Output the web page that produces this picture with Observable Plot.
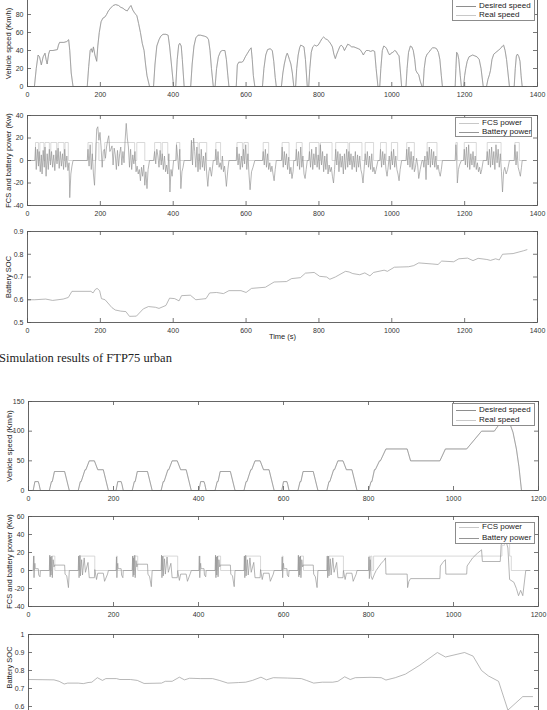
<!DOCTYPE html>
<html>
<head>
<meta charset="utf-8">
<script src="https://cdn.jsdelivr.net/npm/d3@7"></script>
<script src="https://cdn.jsdelivr.net/npm/@observablehq/plot@0.6"></script>
<style>
html,body{margin:0;padding:0;background:#fff;}
#page{position:relative;width:547px;height:710px;overflow:hidden;background:#fff;font-family:"Liberation Sans",Arial,sans-serif;}
#page svg{position:absolute;left:0;overflow:visible;}
.legend{position:absolute;border:1px solid #8c8c8c;background:#fff;box-sizing:border-box;}
.lg-line{position:absolute;height:0;border-top:1px solid #888;}
.lg-text{position:absolute;font-size:8px;line-height:8px;color:#222;white-space:nowrap;}
.caption{position:absolute;left:-1px;top:351px;font-family:"Liberation Serif","Times New Roman",serif;font-size:12.5px;color:#222;white-space:nowrap;}
</style>
</head>
<body>
<div id="page"></div>
<script>
// ---------- FTP75 urban ----------
const ftpTicksX = [0, 200, 400, 600, 800, 1000, 1200, 1400];
const speedTicks1 = [0, 20, 40, 60, 80];
const powerTicks1 = [-40, -20, 0, 20, 40];
const socTicks1 = [0.5, 0.6, 0.7, 0.8, 0.9];

const desiredSpeed1 = [
[0,0],[19,0],[24,20],[29,35],[33,33],[38,24],[43,33],[48,37],[51,30],[54,25],[58,36],[61,40],[70,40],[82,41],[85,46],[88,49],[100,49],[108,50],[113,52],[116,40],[120,15],[125,0],
[164,0],[168,22],[172,40],[175,42],[178,38],[181,44],[185,35],[190,28],[193,45],[197,60],[202,72],[207,76],[212,77],[217,80],[222,84],[228,87],[235,90],[242,91],[250,90],[256,88],[262,87],[268,85],[274,84],[280,88],[284,90],[289,85],[295,81],[300,79],[305,70],[310,60],[315,48],[320,40],[324,25],[328,12],[335,0],
[346,0],[350,25],[355,45],[361,52],[366,56],[372,58],[380,58],[386,57],[390,45],[395,25],[401,0],
[407,0],[411,30],[415,46],[418,48],[422,45],[425,30],[430,0],
[448,0],[452,25],[457,45],[462,54],[468,57],[475,57],[485,56],[492,55],[497,52],[501,40],[505,20],[510,0],
[515,0],[519,20],[524,33],[530,39],[535,40],[542,40],[546,30],[550,12],[553,0],
[573,0],[576,24],[580,27],[588,27],[592,28],[598,33],[604,37],[610,41],[614,43],[617,30],[620,12],[624,0],
[645,0],[649,20],[654,35],[659,41],[666,42],[672,40],[676,28],[680,10],[683,0],
[697,0],[701,15],[705,25],[710,34],[713,37],[716,34],[719,30],[723,25],[727,15],[731,0],
[736,0],[739,20],[743,35],[747,43],[750,46],[755,45],[759,44],[763,30],[768,0],
[772,0],[775,20],[779,38],[783,44],[788,46],[793,45],[798,46],[804,50],[808,53],[813,55],[818,53],[823,52],[828,50],[833,47],[837,44],[841,36],[845,31],[849,36],[853,40],[857,44],[861,46],[866,44],[870,40],[874,43],[879,47],[884,46],[890,44],[896,44],[902,43],[908,42],[913,41],[918,38],[922,35],[926,38],[930,40],[936,40],[942,39],[948,40],[953,39],[957,20],[962,0],
[967,0],[970,20],[974,40],[978,45],[982,44],[986,42],[990,38],[994,35],[998,37],[1003,38],[1008,40],[1012,39],[1016,36],[1020,34],[1024,15],[1027,0],
[1039,0],[1042,20],[1046,38],[1051,45],[1055,44],[1059,40],[1063,30],[1066,18],[1070,15],[1074,13],[1078,6],[1083,0],
[1086,0],[1089,20],[1093,32],[1097,36],[1102,38],[1107,41],[1112,43],[1118,43],[1123,42],[1128,38],[1132,30],[1136,12],[1139,0],
[1174,0],[1176,20],[1178,38],[1181,36],[1184,30],[1188,12],[1191,0],
[1197,0],[1200,12],[1203,20],[1207,28],[1212,33],[1217,34],[1222,35],[1228,34],[1234,33],[1240,30],[1245,20],[1251,0],
[1260,0],[1264,8],[1268,13],[1271,18],[1275,30],[1280,36],[1286,38],[1292,40],[1298,42],[1304,45],[1307,46],[1311,40],[1315,30],[1319,15],[1323,0],
[1336,0],[1339,20],[1342,34],[1345,36],[1349,33],[1352,28],[1355,12],[1358,0],[1369,0]
];
const realSpeed1 = desiredSpeed1;

const fcsPower1 = [
[0,0],[22,16],[30,0],[34,16],[45,0],[48,16],[60,0],[64,16],[80,0],[84,16],[100,0],[103,16],[112,0],
[166,16],[178,0],[188,16],[196,0],[212,16],[294,0],[300,16],[322,0],
[349,16],[366,0],[370,16],[385,0],[409,16],[418,0],[450,16],[468,0],[472,16],[492,0],[517,16],[530,0],
[575,16],[590,0],[594,16],[606,0],[647,16],[662,0],[699,16],[718,0],[738,16],[754,0],
[774,16],[800,0],[804,16],[836,0],[846,16],[880,0],[884,16],[918,0],[927,16],[950,0],
[969,16],[985,0],[999,16],[1016,0],[1041,16],[1062,0],[1097,16],[1124,0],[1176,16],[1180,0],
[1199,16],[1232,0],[1262,16],[1300,0],[1338,16],[1350,0],[1369,0]
];

const batteryPower1 = [
[0,0],[20,0],[22,12],[24,-8],[27,10],[30,-5],[32,8],[35,-10],[38,5],[40,-12],[43,9],[46,-6],[48,12],[51,-14],[54,6],[57,-8],[60,10],[63,-4],[66,8],[69,-6],[72,5],[75,-9],[78,9],[81,-3],[84,11],[87,-7],[90,8],[93,-5],[96,6],[99,-8],[102,10],[105,-6],[108,4],[111,-9],[114,-2],[116,-33],[119,-12],[122,-5],[125,0],
[164,0],[166,10],[169,-5],[172,14],[175,-8],[178,6],[181,-12],[184,-22],[187,4],[190,28],[193,30],[196,18],[199,25],[202,12],[205,-6],[208,8],[211,10],[214,2],[217,12],[220,18],[223,22],[226,8],[229,10],[232,13],[235,-4],[238,11],[241,5],[244,-8],[247,9],[250,-5],[253,6],[256,12],[259,-4],[262,8],[265,-2],[268,18],[271,33],[274,20],[277,12],[280,-6],[283,10],[286,-8],[289,5],[292,-3],[295,8],[298,-10],[301,-5],[304,-12],[307,-8],[310,-18],[313,-6],[316,-14],[319,-4],[322,-22],[325,-10],[328,-25],[331,-8],[335,0],
[346,0],[349,8],[352,-3],[355,10],[358,4],[361,-6],[364,9],[367,-4],[370,6],[373,-8],[376,4],[379,-10],[382,-4],[385,-12],[388,6],[391,-28],[394,-8],[397,-14],[401,0],
[407,0],[409,14],[412,4],[415,-8],[418,10],[421,-25],[424,-10],[427,-6],[430,0],
[448,0],[450,18],[453,-4],[456,20],[459,8],[462,-6],[465,12],[468,-10],[471,6],[474,-8],[477,10],[480,-6],[483,4],[486,-9],[489,7],[492,-12],[495,-23],[498,-10],[501,-6],[505,-14],[510,0],
[515,0],[517,10],[520,-4],[523,8],[526,-6],[529,-2],[532,-8],[535,4],[538,-10],[541,-5],[546,-23],[550,-8],[553,0],
[573,0],[575,12],[578,-4],[581,6],[584,-8],[587,4],[590,-6],[593,10],[596,-3],[599,14],[602,-8],[605,6],[608,-12],[611,-26],[615,-10],[619,-6],[624,0],
[645,0],[647,8],[650,-4],[653,10],[656,-6],[659,6],[662,-8],[665,-2],[668,-10],[671,-5],[674,-12],[677,-18],[680,-8],[683,0],
[697,0],[699,12],[702,-6],[705,8],[708,-4],[711,6],[714,-8],[717,3],[720,-12],[723,-6],[726,-16],[729,-10],[731,0],
[736,0],[738,10],[741,-5],[744,8],[747,-8],[750,12],[753,-6],[756,4],[759,-12],[762,-16],[765,-8],[768,0],
[772,0],[774,8],[777,-6],[780,10],[783,-8],[786,6],[789,-4],[792,12],[795,-6],[798,5],[801,-8],[804,14],[807,-4],[810,8],[813,-10],[816,4],[819,-8],[822,6],[825,-12],[828,-4],[831,-10],[834,-6],[837,-14],[840,-20],[843,-8],[846,10],[849,-4],[852,8],[855,-10],[858,6],[861,-6],[864,4],[867,-12],[870,6],[873,-8],[876,10],[879,-6],[882,8],[885,-4],[888,6],[891,-8],[894,4],[897,-6],[900,8],[903,-10],[906,5],[909,-6],[912,4],[915,-8],[918,-12],[921,-20],[924,-8],[927,6],[930,-4],[933,8],[936,-6],[939,4],[942,-8],[945,6],[948,-10],[951,-6],[954,-12],[957,-8],[962,0],
[967,0],[969,10],[972,-6],[975,8],[978,-4],[981,6],[984,-8],[987,-14],[990,-6],[993,4],[996,-8],[999,8],[1002,-4],[1005,10],[1008,-6],[1011,4],[1014,-8],[1017,-12],[1020,-18],[1023,-8],[1027,0],
[1039,0],[1041,10],[1044,-4],[1047,12],[1050,-6],[1053,8],[1056,-8],[1059,4],[1062,-10],[1065,-6],[1068,2],[1071,-4],[1074,-16],[1078,-8],[1083,0],
[1086,0],[1088,-6],[1091,4],[1094,-17],[1097,8],[1100,-4],[1103,12],[1106,-6],[1109,10],[1112,-4],[1115,8],[1118,-6],[1121,4],[1124,-8],[1127,-4],[1130,-10],[1133,-14],[1136,-8],[1139,0],
[1174,0],[1176,14],[1178,4],[1180,-20],[1183,-8],[1186,-4],[1191,0],
[1197,0],[1199,10],[1202,-4],[1205,12],[1208,-6],[1211,14],[1214,-8],[1217,6],[1220,-4],[1223,8],[1226,-6],[1229,4],[1232,-8],[1235,-2],[1238,-10],[1241,-6],[1244,-12],[1247,-8],[1251,0],
[1260,0],[1262,8],[1265,-4],[1268,10],[1271,-6],[1274,12],[1277,-4],[1280,8],[1283,-8],[1286,14],[1289,-2],[1292,10],[1295,-6],[1298,6],[1301,-10],[1304,-28],[1307,-10],[1310,-6],[1314,-12],[1318,-8],[1323,0],
[1336,0],[1338,14],[1341,-4],[1344,8],[1347,-6],[1350,-10],[1353,-14],[1356,-6],[1358,0],[1369,0]
];

const soc1 = [
[0,0.6],[20,0.6],[50,0.603],[69,0.597],[98,0.603],[112,0.61],[122,0.637],[174,0.637],[180,0.63],[186,0.645],[191,0.65],[198,0.64],[203,0.605],[213,0.6],[232,0.565],[241,0.555],[256,0.55],[270,0.548],[280,0.527],[299,0.528],[318,0.56],[332,0.57],[351,0.567],[361,0.562],[380,0.575],[390,0.607],[404,0.605],[416,0.595],[423,0.618],[447,0.62],[462,0.6],[490,0.605],[500,0.63],[519,0.632],[538,0.627],[553,0.64],[586,0.64],[600,0.632],[615,0.65],[653,0.655],[677,0.678],[711,0.68],[725,0.693],[749,0.697],[763,0.717],[787,0.72],[802,0.703],[821,0.7],[830,0.69],[845,0.7],[873,0.725],[883,0.722],[893,0.715],[912,0.71],[926,0.718],[940,0.705],[950,0.72],[979,0.73],[988,0.725],[1007,0.743],[1046,0.745],[1060,0.75],[1074,0.762],[1113,0.757],[1127,0.755],[1137,0.77],[1170,0.767],[1184,0.78],[1208,0.783],[1223,0.772],[1237,0.782],[1261,0.777],[1271,0.773],[1285,0.78],[1295,0.775],[1304,0.8],[1333,0.803],[1361,0.815],[1371,0.82]
];

// ---------- second cycle ----------
const nedcTicksX = [0, 200, 400, 600, 800, 1000, 1200];
const speedTicks2 = [0, 50, 100, 150];
const powerTicks2 = [-40, -20, 0, 20, 40, 60];
const socTicks2 = [0.5, 0.6, 0.7, 0.8, 0.9, 1];
const socLabels2 = [0.6, 0.7, 0.8, 0.9, 1];

const desiredSpeed2 = [
[0,0],[11,0],[15,15],[23,15],[25,10],[28,0],[49,0],[54,15],[56,15],[61,32],[85,32],[96,0],[117,0],[122,15],[124,15],[133,35],[135,35],[143,50],[155,50],[163,35],[176,35],[188,0],
[206,0],[210,15],[218,15],[220,10],[223,0],[244,0],[249,15],[251,15],[256,32],[280,32],[291,0],[312,0],[317,15],[319,15],[328,35],[330,35],[338,50],[350,50],[358,35],[371,35],[383,0],
[401,0],[405,15],[413,15],[415,10],[418,0],[439,0],[444,15],[446,15],[451,32],[475,32],[486,0],[507,0],[512,15],[514,15],[523,35],[525,35],[533,50],[545,50],[553,35],[566,35],[578,0],
[596,0],[600,15],[608,15],[610,10],[613,0],[634,0],[639,15],[641,15],[646,32],[670,32],[681,0],[702,0],[707,15],[709,15],[718,35],[720,35],[728,50],[740,50],[748,35],[761,35],[773,0],
[800,0],[806,15],[808,15],[814,35],[816,35],[826,50],[828,50],[841,70],[891,70],[899,50],[968,50],[981,70],[1031,70],[1066,100],[1096,100],[1116,120],[1126,120],[1132,114],[1140,98],[1148,70],[1154,40],[1160,0],[1180,0]
];
const realSpeed2 = desiredSpeed2;

const fcsPower2 = [
[0,0],[12,16],[14,0],[50,16],[52,0],[55,16],[62,0],[118,16],[120,0],[122,16],[156,0],
[207,16],[209,0],[245,16],[247,0],[250,16],[257,0],[313,16],[315,0],[317,16],[351,0],
[402,16],[404,0],[440,16],[442,0],[445,16],[452,0],[508,16],[510,0],[512,16],[546,0],
[597,16],[599,0],[635,16],[637,0],[640,16],[647,0],[703,16],[705,0],[707,16],[741,0],
[801,16],[803,0],[805,16],[808,0],[812,16],[1110,16],[1114,28],[1120,35],[1128,35],[1132,16],[1136,0],[1180,0]
];

const batteryPower2 = [
[0,0],[11,0],[12,16],[13,-8],[14,3],[15,8],[16,2],[23,2],[24,-5],[27,-7],[28,0],[49,0],[50,17],[51,-7],[52,15],[53,-5],[55,16],[56,-8],[58,12],[60,4],[61,6],[85,6],[86,-4],[90,-6],[94,-19],[96,0],[117,0],[118,16],[119,-8],[121,17],[122,-6],[125,12],[127,-5],[131,14],[134,-2],[140,9],[143,-8],[155,-8],[156,1],[160,-10],[163,-3],[176,-3],[179,-12],[186,-4],[188,0],
[206,0],[207,15],[208,-8],[209,4],[210,8],[211,2],[218,2],[219,-5],[222,-8],[223,0],[244,0],[245,16],[246,-7],[247,14],[248,-5],[250,17],[251,-8],[253,11],[255,4],[256,7],[280,7],[281,-4],[285,-7],[289,-18],[291,0],[312,0],[313,17],[314,-8],[316,16],[317,-6],[320,13],[322,-4],[326,15],[329,-2],[335,8],[338,-8],[350,-8],[351,0],[355,-11],[358,-4],[371,-4],[374,-12],[381,-3],[383,0],
[401,0],[402,16],[403,-8],[404,3],[405,8],[406,2],[413,2],[414,-5],[417,-7],[418,0],[439,0],[440,17],[441,-8],[442,15],[443,-5],[445,16],[446,-7],[448,12],[450,4],[451,6],[475,6],[476,-4],[480,-6],[484,-18],[486,0],[507,0],[508,16],[509,-8],[511,17],[512,-6],[515,12],[517,-5],[521,14],[524,-2],[530,9],[533,-8],[545,-8],[546,1],[550,-10],[553,-3],[566,-3],[569,-12],[576,-4],[578,0],
[596,0],[597,15],[598,-8],[599,4],[600,8],[601,2],[608,2],[609,-5],[612,-7],[613,0],[634,0],[635,17],[636,-7],[637,15],[638,-5],[640,16],[641,-8],[643,12],[645,4],[646,6],[670,6],[671,-4],[675,-7],[679,-19],[681,0],[702,0],[703,16],[704,-8],[706,16],[707,-6],[710,13],[712,-5],[716,14],[719,-2],[725,9],[728,-8],[740,-8],[741,0],[745,-10],[748,-3],[761,-3],[764,-12],[771,-4],[773,0],
[800,0],[801,15],[802,-9],[804,12],[806,-6],[809,-10],[814,-4],[818,0],[824,4],[830,8],[836,11],[840,14],[841,-4],[891,-4],[892,-19],[895,-12],[899,-9],[968,-9],[969,5],[975,9],[981,12],[982,-4],[1031,-4],[1032,5],[1045,14],[1056,19],[1066,23],[1068,10],[1110,10],[1112,28],[1118,38],[1124,32],[1128,25],[1132,-10],[1142,-13],[1148,-20],[1153,-28],[1158,-22],[1163,-28],[1170,0],[1180,0]
];

const soc2 = [
[0,0.75],[60,0.748],[72,0.74],[84,0.725],[92,0.73],[117,0.73],[129,0.727],[140,0.733],[149,0.735],[162,0.76],[174,0.745],[182,0.755],[207,0.755],[215,0.75],[240,0.75],[256,0.745],[272,0.728],[313,0.73],[322,0.74],[338,0.74],[355,0.763],[367,0.748],[379,0.757],[404,0.755],[433,0.755],[449,0.745],[469,0.73],[494,0.733],[511,0.735],[527,0.745],[547,0.763],[560,0.748],[576,0.76],[609,0.758],[642,0.755],[654,0.745],[671,0.73],[691,0.735],[716,0.735],[728,0.74],[744,0.765],[757,0.75],[769,0.76],[806,0.762],[830,0.76],[841,0.747],[863,0.76],[887,0.78],[921,0.83],[962,0.9],[981,0.875],[1026,0.9],[1046,0.88],[1066,0.8],[1082,0.77],[1106,0.74],[1128,0.58],[1163,0.655],[1186,0.655]
];

// ---------- rendering ----------
const page = document.getElementById("page");
const FONT = '"Liberation Sans", Arial, sans-serif';
const fmt = d => String(d);

function panel(o) {
  const mt = 8, mb = 26;
  const fh = o.fb - o.ft;
  const fw = 547 - o.ml - o.mr;
  const axisColor = "#555";
  const marks = [
    ...o.series.map(s => Plot.line(s.data, {x: d => d[0], y: d => d[1], stroke: s.color, strokeWidth: 0.7, curve: s.curve || "linear"})),
    Plot.frame({stroke: axisColor, strokeWidth: 0.9}),
    Plot.ruleX(o.xt, {x: d => d, insetTop: fh - 4, stroke: axisColor, strokeWidth: 0.8}),
    Plot.ruleX(o.xt, {x: d => d, insetBottom: fh - 4, stroke: axisColor, strokeWidth: 0.8}),
    Plot.ruleY(o.yt, {y: d => d, insetRight: fw - 4, stroke: axisColor, strokeWidth: 0.8}),
    Plot.ruleY(o.yt, {y: d => d, insetLeft: fw - 4, stroke: axisColor, strokeWidth: 0.8}),
    Plot.axisY({ticks: o.ylabels || o.yt, tickSize: 0, tickPadding: 4, label: null, tickFormat: fmt, fontSize: 7, fill: "#333"}),
    Plot.text([o.ylabel], {text: d => d, frameAnchor: "left", textAnchor: "middle", dx: -19, dy: o.labelDy || 0, rotate: -90, fontSize: 7.5, fill: "#222"})
  ];
  if (!o.noXLabels) marks.push(Plot.axisX({ticks: o.xt, tickSize: 0, tickPadding: 6, label: null, tickFormat: fmt, fontSize: 7, fill: "#333"}));
  else marks.push(Plot.axisX({ticks: [], label: null}));
  if (o.xlabel) marks.push(Plot.text([o.xlabel], {text: d => d, frameAnchor: "bottom", dy: 16, fontSize: 7.5, fill: "#222"}));
  const svg = Plot.plot({
    width: 547, height: fh + mt + mb,
    marginTop: mt, marginBottom: mb, marginLeft: o.ml, marginRight: o.mr,
    style: {fontFamily: FONT, fontSize: "7px", color: "#333", background: "transparent"},
    x: {domain: o.xd}, y: {domain: o.yd},
    marks
  });
  svg.style.top = (o.ft - mt) + "px";
  page.appendChild(svg);
}

function legend(left, top, w, h, items) {
  const box = document.createElement("div");
  box.className = "legend";
  Object.assign(box.style, {left: left + "px", top: top + "px", width: w + "px", height: h + "px"});
  page.appendChild(box);
  items.forEach(([label, color, y]) => {
    const ln = document.createElement("div");
    ln.className = "lg-line";
    Object.assign(ln.style, {left: (left + 4) + "px", top: y + "px", width: "20px", borderTopColor: color});
    page.appendChild(ln);
    const tx = document.createElement("div");
    tx.className = "lg-text";
    tx.textContent = label;
    Object.assign(tx.style, {left: (left + 27) + "px", top: (y - 4) + "px"});
    page.appendChild(tx);
  });
}

const cDes = "#8e8e8e", cReal = "#c8c8c8", cFcs = "#c8c8c8", cBat = "#959595", cSoc = "#999999";

panel({ft: -4, fb: 86, ml: 27, mr: 10, xd: [0, 1400], xt: ftpTicksX, yd: [0, 100], yt: speedTicks1,
  ylabel: "Vehicle speed (Km/h)", labelDy: 2,
  series: [{data: realSpeed1, color: cReal}, {data: desiredSpeed1, color: cDes}]});
panel({ft: 115, fb: 205, ml: 27, mr: 10, xd: [0, 1400], xt: ftpTicksX, yd: [-40, 40], yt: powerTicks1,
  ylabel: "FCS and battery power (Kw)",
  series: [{data: fcsPower1, color: cFcs, curve: "step-after"}, {data: batteryPower1, color: cBat}]});
panel({ft: 231, fb: 322, ml: 27, mr: 10, xd: [0, 1400], xt: ftpTicksX, yd: [0.5, 0.9], yt: socTicks1,
  ylabel: "Battery SOC", xlabel: "Time (s)",
  series: [{data: soc1, color: cSoc}]});

const cap = document.createElement("div");
cap.className = "caption";
cap.textContent = "Simulation results of FTP75 urban";
page.appendChild(cap);

panel({ft: 401, fb: 490, ml: 28, mr: 9, xd: [0, 1200], xt: nedcTicksX, yd: [0, 150], yt: speedTicks2,
  ylabel: "Vehicle speed (Km/h)",
  series: [{data: realSpeed2, color: cReal}, {data: desiredSpeed2, color: cDes}]});
panel({ft: 516, fb: 606, ml: 28, mr: 9, xd: [0, 1200], xt: nedcTicksX, yd: [-40, 60], yt: powerTicks2,
  ylabel: "FCS and battery power (Kw)",
  series: [{data: fcsPower2, color: cFcs, curve: "step-after"}, {data: batteryPower2, color: cBat}]});
panel({ft: 634, fb: 724, ml: 28, mr: 9, xd: [0, 1200], xt: nedcTicksX, yd: [0.5, 1], yt: socTicks2, ylabels: socLabels2,
  ylabel: "Battery SOC", labelDy: -12, noXLabels: true,
  series: [{data: soc2, color: cSoc}]});

legend(452, -3, 83, 24, [["Desired speed", cDes, 6], ["Real speed", cReal, 15]]);
legend(455, 117, 77, 20, [["FCS power", cFcs, 123], ["Battery power", cBat, 132]]);
legend(452, 403, 83, 23, [["Desired speed", cDes, 410], ["Real speed", cReal, 420]]);
legend(455, 522, 80, 22, [["FCS power", cFcs, 527], ["Battery power", cBat, 538]]);
</script>
</body>
</html>
